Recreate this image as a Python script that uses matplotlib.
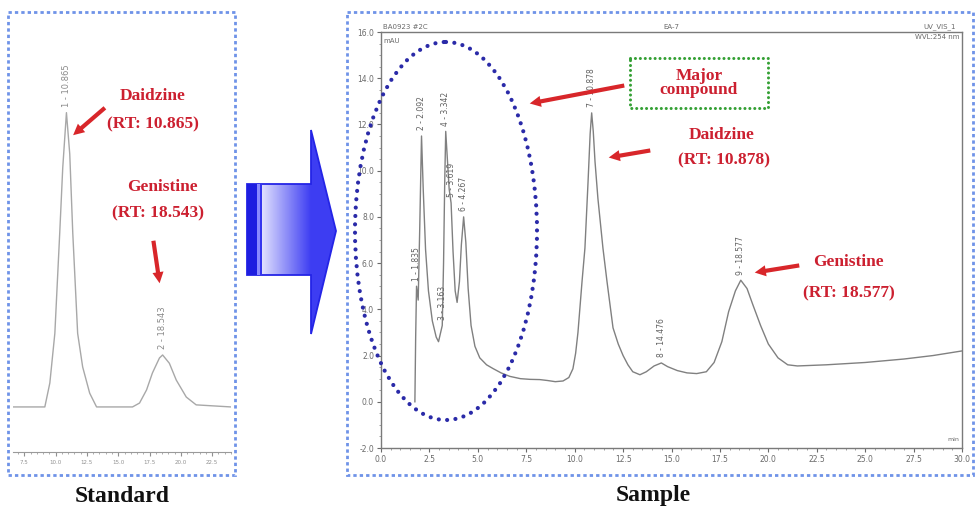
import numpy as np
import matplotlib
matplotlib.use("Agg")
import matplotlib.pyplot as plt
from matplotlib.patches import Rectangle, Ellipse, Polygon, FancyArrowPatch
from matplotlib.ticker import MultipleLocator, FormatStrFormatter

# ---------------- data ----------------
# Sample chromatogram (retention time, min / absorbance, mAU)
sample_time = [1.75, 1.79, 1.835, 1.92, 2.0, 2.092, 2.18, 2.3, 2.45, 2.65, 2.85, 2.97,
               3.08, 3.163, 3.23, 3.29, 3.342, 3.42, 3.52, 3.619, 3.72, 3.83, 3.93,
               4.05, 4.15, 4.267, 4.38, 4.5, 4.65, 4.85, 5.1, 5.45, 5.8, 6.2, 6.65,
               7.2, 7.7, 8.2, 8.6, 9.0, 9.4, 9.7, 9.91, 10.05, 10.17, 10.38, 10.53,
               10.69, 10.8, 10.878, 10.96, 11.05, 11.2, 11.46, 11.67, 11.98, 12.25,
               12.5, 12.75, 13.0, 13.37, 13.7, 14.1, 14.476, 14.8, 15.3, 15.8, 16.3,
               16.8, 17.2, 17.6, 17.95, 18.3, 18.577, 18.9, 19.2, 19.6, 20.0, 20.5,
               21.0, 21.5, 23.0, 25.0, 27.0, 28.5, 30.0]
sample_mau = [0.0, 2.8, 5.0, 4.4, 7.5, 11.5, 9.2, 6.6, 4.8, 3.5, 2.8, 2.6,
              3.0, 3.3, 6.0, 9.5, 11.7, 10.6, 9.2, 8.6, 6.5, 4.8, 4.3,
              5.2, 6.8, 8.0, 6.9, 4.9, 3.3, 2.4, 1.9, 1.6, 1.43, 1.25, 1.1,
              1.0, 0.97, 0.96, 0.92, 0.87, 0.9, 1.05, 1.43, 2.1, 3.0, 5.2, 6.65,
              9.5, 11.6, 12.5, 11.7, 10.4, 8.8, 6.65, 5.2, 3.2, 2.5,
              2.0, 1.6, 1.3, 1.17, 1.3, 1.55, 1.68, 1.52, 1.35, 1.25, 1.22,
              1.3, 1.7, 2.6, 3.9, 4.8, 5.26, 4.9, 4.2, 3.3, 2.5, 1.9,
              1.6, 1.55, 1.6, 1.7, 1.85, 2.0, 2.2]
sample_peak_no = [1, 2, 3, 4, 5, 6, 7, 8, 9]
sample_peak_rt = [1.835, 2.092, 3.163, 3.342, 3.619, 4.267, 10.878, 14.476, 18.577]

# Standard chromatogram
standard_time = [6.6, 9.14, 9.54, 9.94, 10.33, 10.57, 10.865, 11.13, 11.37, 11.76,
                 12.16, 12.72, 13.27, 16.14, 16.7, 17.26, 17.73, 18.29, 18.543,
                 19.08, 19.63, 20.43, 21.22, 24.0]
standard_mau = [0.0, 0.0, 1.04, 3.2, 7.57, 10.4, 12.8, 11.0, 7.57, 3.2,
                1.74, 0.6, 0.0, 0.0, 0.17, 0.74, 1.48, 2.13, 2.26,
                1.9, 1.17, 0.43, 0.09, 0.0]
standard_peak_no = [1, 2]
standard_peak_rt = [10.865, 18.543]

sample_xticks = [0.0, 2.5, 5.0, 7.5, 10.0, 12.5, 15.0, 17.5, 20.0, 22.5, 25.0, 27.5, 30.0]
sample_yticks = [-2.0, 0.0, 2.0, 4.0, 6.0, 8.0, 10.0, 12.0, 14.0, 16.0]
standard_xticks = [7.5, 10.0, 12.5, 15.0, 17.5, 20.0, 22.5]

# ---------------- figure ----------------
W, H = 976, 517
fig = plt.figure(figsize=(W / 100, H / 100), dpi=100)
fig.patch.set_facecolor("white")

def px_axes(x0, y0, x1, y1):
    return fig.add_axes([x0 / W, 1 - y1 / H, (x1 - x0) / W, (y1 - y0) / H])

GRAY = "#808080"
TXT = "#6a6a6a"
RED = "#d8262a"
RED_T = "#cc2030"
SERIF = ["Liberation Serif", "DejaVu Serif"]

# ----- Standard panel -----
axL = px_axes(13, 40, 231, 452)
axL.plot(standard_time, standard_mau, color="#a8a8a8", lw=1.0)
axL.set_xlim(6.6, 24.0)
axL.set_ylim(-1.96, 15.96)
for s in ["left", "right", "top"]:
    axL.spines[s].set_visible(False)
axL.spines["bottom"].set_color("#9a9a9a")
axL.set_yticks([])
axL.set_xticks(standard_xticks)
axL.xaxis.set_major_formatter(FormatStrFormatter("%.1f"))
axL.xaxis.set_minor_locator(MultipleLocator(0.5))
axL.tick_params(axis="x", labelsize=4, colors="#909090", length=3, pad=3)
axL.tick_params(axis="x", which="minor", length=1.5, colors="#a0a0a0")
axL.patch.set_alpha(0)
for n, rt in zip(standard_peak_no, standard_peak_rt):
    v = np.interp(rt, standard_time, standard_mau)
    axL.annotate(f"{n} - {rt:.3f}", xy=(rt, v), xytext=(0, 4), textcoords="offset points",
                 rotation=90, ha="center", va="bottom", fontsize=6, color="#8a8a8a")

# ----- Sample panel -----
axR = px_axes(381, 32, 962, 448)
axR.plot(sample_time, sample_mau, color=GRAY, lw=1.0)
axR.set_xlim(0, 30)
axR.set_ylim(-1.96, 16)
for s in axR.spines.values():
    s.set_color("#7a7a7a")
    s.set_linewidth(1.0)
axR.set_xticks(sample_xticks)
axR.set_yticks(sample_yticks)
axR.xaxis.set_major_formatter(FormatStrFormatter("%.1f"))
axR.yaxis.set_major_formatter(FormatStrFormatter("%.1f"))
axR.xaxis.set_minor_locator(MultipleLocator(0.5))
axR.yaxis.set_minor_locator(MultipleLocator(0.5))
axR.tick_params(axis="both", labelsize=5.5, colors=TXT, length=3, pad=2)
axR.tick_params(axis="both", which="minor", length=1.5, colors="#909090")
axR.patch.set_alpha(0)
for n, rt in zip(sample_peak_no, sample_peak_rt):
    v = np.interp(rt, sample_time, sample_mau)
    axR.annotate(f"{n} - {rt:.3f}", xy=(rt, v), xytext=(0, 4), textcoords="offset points",
                 rotation=90, ha="center", va="bottom", fontsize=5.5, color="#606060")
axR.text(0.004, 1.005, "BA0923 #2C", transform=axR.transAxes, fontsize=5, color=TXT,
         ha="left", va="bottom")
axR.text(0.5, 1.005, "EA-7", transform=axR.transAxes, fontsize=5, color=TXT,
         ha="center", va="bottom")
axR.text(0.99, 1.005, "UV_VIS_1", transform=axR.transAxes, fontsize=5, color=TXT,
         ha="right", va="bottom")
axR.text(0.004, 0.985, "mAU", transform=axR.transAxes, fontsize=5, color=TXT,
         ha="left", va="top")
axR.text(0.995, 0.995, "WVL:254 nm", transform=axR.transAxes, fontsize=5, color=TXT,
         ha="right", va="top")
axR.text(0.995, 0.015, "min", transform=axR.transAxes, fontsize=4.5, color=TXT,
         ha="right", va="bottom")

# ----- overlay (pixel coordinates) -----
ov = fig.add_axes([0, 0, 1, 1])
ov.set_zorder(10)
ov.patch.set_alpha(0)
ov.axis("off")

# dotted panel frames
for (x0, y0, x1, y1) in [(8, 12, 235, 475), (347, 12, 973, 475)]:
    ov.add_patch(Rectangle((x0, y0), x1 - x0, y1 - y0, fill=False, ec="#6f93e8",
                           lw=2.0, linestyle=(0, (1.2, 1.1))))

# big blue arrow with gradient
arrow_pts = [(247, 184), (311, 184), (311, 130), (336, 231), (311, 334), (311, 275), (247, 275)]
arrow_poly = Polygon(arrow_pts, closed=True, fc="none", ec="#2424e6", lw=1.3, zorder=3)
ov.add_patch(arrow_poly)
xs = np.linspace(247, 336, 200)
c0 = np.array([0.93, 0.93, 1.0])
c1 = np.array([0.24, 0.24, 0.95])
frac = np.clip((xs - 258) / (311 - 258), 0, 1)
grad = c0[None, :] * (1 - frac[:, None]) + c1[None, :] * frac[:, None]
im = ov.imshow(grad[None, :, :], extent=(247, 336, 334, 130), aspect="auto",
               interpolation="bilinear", zorder=2)
im.set_clip_path(arrow_poly)
ov.add_patch(Rectangle((247, 184), 10, 91, fc="#1e1ee0", ec="none", zorder=3))
ov.add_patch(Rectangle((257, 184), 2.5, 91, fc="#8a8aff", ec="none", zorder=3))
ov.add_patch(Rectangle((259.5, 184), 2.5, 91, fc="#3434ee", ec="none", zorder=3))

# dotted ellipse around early peaks
ell = Ellipse((446, 231), 182, 378, fill=False, ec="#2a2aa8", lw=3.0,
              linestyle=(0, (0.01, 2.0)))
ell.set_capstyle("round")
ov.add_patch(ell)

# green dotted box
gbox = Rectangle((630, 58), 138, 50, fill=False, ec="#34a034", lw=2.2,
                 linestyle=(0, (0.01, 1.6)))
gbox.set_capstyle("round")
ov.add_patch(gbox)
ov.text(699, 83, "Major\ncompound", ha="center", va="center", fontsize=12.5,
        fontweight="bold", family=SERIF, color=RED_T, linespacing=0.85)

# red arrows
def red_arrow(x0, y0, x1, y1):
    ov.add_patch(FancyArrowPatch((x0, y0), (x1, y1),
                                 arrowstyle="simple,head_length=0.8,head_width=0.8,tail_width=0.3",
                                 mutation_scale=10, color=RED, lw=0, zorder=5))

red_arrow(627, 85, 527, 104)
red_arrow(653, 150, 606, 158)
red_arrow(802, 265, 752, 273)
red_arrow(107, 106, 71, 137)
red_arrow(153, 238, 160, 286)

def label(x, y, s, size=12.5):
    ov.text(x, y, s, ha="center", va="center", fontsize=size, fontweight="bold",
            family=SERIF, color=RED_T)

label(722, 135, "Daidzine")
label(724, 160, "(RT: 10.878)")
label(848, 262, "Genistine")
label(849, 293, "(RT: 18.577)")
label(153, 96, "Daidzine")
label(153, 124, "(RT: 10.865)")
label(162, 187, "Genistine")
label(158, 213, "(RT: 18.543)")

ov.text(122, 496, "Standard", ha="center", va="center", fontsize=17, fontweight="bold",
        family=SERIF, color="#111111")
ov.text(653, 496, "Sample", ha="center", va="center", fontsize=17, fontweight="bold",
        family=SERIF, color="#111111")

ov.set_xlim(0, W)
ov.set_ylim(H, 0)

fig.savefig("out.png", dpi=100)
